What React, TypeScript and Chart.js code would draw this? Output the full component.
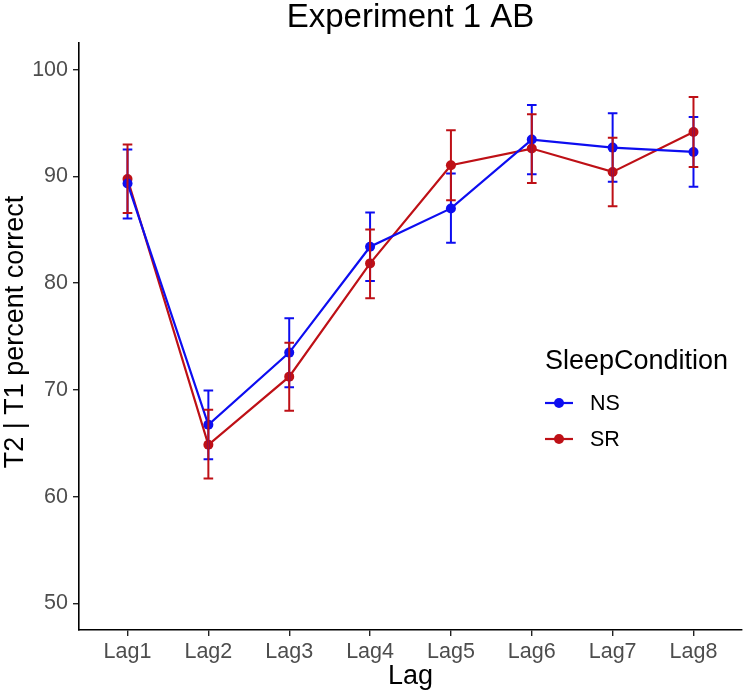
import React, { useEffect, useRef } from "react";
import { Chart, registerables } from "chart.js";

Chart.register(...registerables);

const categories = ["Lag1", "Lag2", "Lag3", "Lag4", "Lag5", "Lag6", "Lag7", "Lag8"];
const nsMean = [89.34, 66.73, 73.49, 83.41, 87.0, 93.45, 92.7, 92.29];
const nsLow = [86.06, 63.5, 70.25, 80.2, 83.78, 90.21, 89.49, 89.02];
const nsHigh = [92.52, 69.93, 76.71, 86.62, 90.27, 96.69, 95.91, 95.56];
const srMean = [89.76, 64.85, 71.24, 81.85, 91.05, 92.61, 90.42, 94.16];
const srLow = [86.56, 61.7, 68.04, 78.58, 87.77, 89.39, 87.21, 90.89];
const srHigh = [92.98, 68.13, 74.42, 85.03, 94.33, 95.83, 93.62, 97.43];
const yTicks = [50, 60, 70, 80, 90, 100];

const seriesNames = ["NS", "SR"];
const BLUE = "#0D0DF0";
const RED = "#BE1016";
const FONT = "'Liberation Sans', Arial, sans-serif";

export default function App() {
  const ref = useRef<HTMLCanvasElement | null>(null);

  useEffect(() => {
    const canvas = ref.current;
    if (!canvas) return;
    const errs = [
      { low: nsLow, high: nsHigh, color: BLUE },
      { low: srLow, high: srHigh, color: RED },
    ];

    const overlay = {
      id: "overlay",
      afterDatasetsDraw(chart: any) {
        const ctx = chart.ctx;
        const xs = chart.scales.x;
        const ys = chart.scales.y;
        ctx.save();
        errs.forEach((e) => {
          ctx.strokeStyle = e.color;
          ctx.lineWidth = 2;
          e.low.forEach((lo, i) => {
            const px = xs.getPixelForValue(i + 1);
            const y1 = ys.getPixelForValue(lo);
            const y2 = ys.getPixelForValue(e.high[i]);
            ctx.beginPath();
            ctx.moveTo(px, y1);
            ctx.lineTo(px, y2);
            ctx.moveTo(px - 4.8, y1);
            ctx.lineTo(px + 4.8, y1);
            ctx.moveTo(px - 4.8, y2);
            ctx.lineTo(px + 4.8, y2);
            ctx.stroke();
          });
        });
        ctx.restore();
      },
      afterDraw(chart: any) {
        const ctx = chart.ctx;
        const area = chart.chartArea;
        const cx = (area.left + area.right) / 2;
        ctx.save();
        ctx.fillStyle = "#000";
        ctx.textAlign = "center";
        ctx.textBaseline = "middle";
        ctx.font = `33px ${FONT}`;
        ctx.fillText("Experiment 1 AB", cx, 18);
        ctx.font = `27px ${FONT}`;
        ctx.fillText("Lag", cx, 677);
        ctx.save();
        ctx.translate(16, 332);
        ctx.rotate(-Math.PI / 2);
        ctx.fillText("T2 | T1 percent correct", 0, 0);
        ctx.restore();

        // legend
        ctx.textAlign = "left";
        ctx.font = `27px ${FONT}`;
        ctx.fillText("SleepCondition", 545, 362);
        const colors = [BLUE, RED];
        const rowsY = [403, 439];
        seriesNames.forEach((name, i) => {
          const y = rowsY[i];
          ctx.strokeStyle = colors[i];
          ctx.lineWidth = 2.2;
          ctx.beginPath();
          ctx.moveTo(545, y);
          ctx.lineTo(573, y);
          ctx.stroke();
          ctx.fillStyle = colors[i];
          ctx.beginPath();
          ctx.arc(559, y, 5, 0, Math.PI * 2);
          ctx.fill();
          ctx.fillStyle = "#000";
          ctx.font = `21.5px ${FONT}`;
          ctx.fillText(name, 590, y + 1);
        });
        ctx.restore();
      },
    };

    const mk = (vals: number[]) => vals.map((y, i) => ({ x: i + 1, y }));

    const chart = new Chart(canvas, {
      type: "line",
      data: {
        datasets: [
          {
            label: seriesNames[0],
            data: mk(nsMean),
            borderColor: BLUE,
            backgroundColor: BLUE,
            borderWidth: 2.2,
            pointRadius: 5,
            pointBorderWidth: 0,
            tension: 0,
          },
          {
            label: seriesNames[1],
            data: mk(srMean),
            borderColor: RED,
            backgroundColor: RED,
            borderWidth: 2.2,
            pointRadius: 5,
            pointBorderWidth: 0,
            tension: 0,
          },
        ],
      },
      options: {
        responsive: false,
        devicePixelRatio: 1,
        animation: false,
        layout: { padding: { top: 43, left: 0, right: 0, bottom: 0 } },
        plugins: {
          legend: { display: false },
          title: { display: false },
          tooltip: { enabled: false },
        },
        scales: {
          x: {
            type: "linear",
            min: 0.4,
            max: 8.6,
            afterBuildTicks: (s: any) => {
              s.ticks = categories.map((_, i) => ({ value: i + 1 }));
            },
            afterFit: (s: any) => {
              s.height = 63;
            },
            ticks: {
              callback: (v: any) => categories[Math.round(Number(v)) - 1] ?? "",
              font: { family: FONT, size: 21.5 },
              color: "#4D4D4D",
              padding: 3,
              maxRotation: 0,
              autoSkip: false,
            },
            grid: {
              drawOnChartArea: false,
              drawTicks: true,
              tickLength: 6,
              color: "#222",
              lineWidth: 1.4,
            },
            border: { display: true, color: "#000", width: 1.6 },
          },
          y: {
            type: "linear",
            min: 47.5,
            max: 102.5,
            afterBuildTicks: (s: any) => {
              s.ticks = yTicks.map((v) => ({ value: v }));
            },
            afterFit: (s: any) => {
              s.width = 79;
            },
            ticks: {
              font: { family: FONT, size: 21.5 },
              color: "#4D4D4D",
              padding: 5,
            },
            grid: {
              drawOnChartArea: false,
              drawTicks: true,
              tickLength: 6,
              color: "#222",
              lineWidth: 1.4,
            },
            border: { display: true, color: "#000", width: 1.6 },
          },
        },
      },
      plugins: [overlay],
    });
    return () => chart.destroy();
  }, []);

  return (
    <div style={{ position: "fixed", left: 0, top: 0, width: 747, height: 693, background: "#fff" }}>
      <canvas ref={ref} width={747} height={693} style={{ display: "block" }} />
    </div>
  );
}
